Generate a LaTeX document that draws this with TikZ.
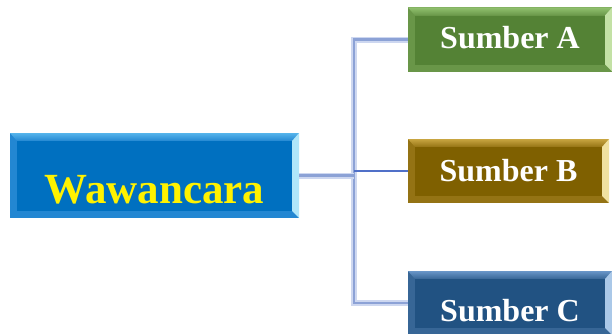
\documentclass[tikz,border=0pt]{standalone}
\usepackage{fontspec}
\setmainfont{Liberation Serif}
\usepackage{tikz}
\usetikzlibrary{calc,positioning}
\definecolor{garis}{RGB}{140,162,214}
\definecolor{garisglow}{RGB}{205,215,240}
\definecolor{garistipis}{RGB}{80,112,200}
\definecolor{biru}{RGB}{0,112,192}
\definecolor{birusisi}{RGB}{35,135,210}
\definecolor{birumuda}{RGB}{85,180,235}
\definecolor{biruterang}{RGB}{175,230,250}
\definecolor{hijau}{RGB}{84,130,53}
\definecolor{hijausisi}{RGB}{105,150,72}
\definecolor{hijaumuda}{RGB}{145,192,110}
\definecolor{hijauterang}{RGB}{195,225,165}
\definecolor{coklat}{RGB}{127,96,0}
\definecolor{coklatsisi}{RGB}{148,115,20}
\definecolor{coklatmuda}{RGB}{200,165,65}
\definecolor{coklatterang}{RGB}{240,225,160}
\definecolor{navy}{RGB}{33,82,130}
\definecolor{navysisi}{RGB}{55,102,150}
\definecolor{navymuda}{RGB}{105,150,200}
\definecolor{navyterang}{RGB}{170,200,232}

\begin{document}
\begin{tikzpicture}[x=1pt, y=1pt,
	bevel/.style n args={4}{draw=none, inner sep=0pt, fill=#1,
		path picture={
			\coordinate (pp-sw) at (path picture bounding box.south west);
			\coordinate (pp-ne) at (path picture bounding box.north east);
			\shade[top color=#2, bottom color=#1] (pp-ne) -- (pp-sw |- pp-ne) -- ($(pp-sw |- pp-ne)+(7,-8)$) -- ($(pp-ne)+(-7,-8)$) -- cycle;
			\fill[#3] (pp-ne) -- (pp-ne |- pp-sw) -- ($(pp-ne |- pp-sw)+(-7,7)$) -- ($(pp-ne)+(-7,-8)$) -- cycle;
			\fill[#4] ($(pp-sw)+(7,7)$) rectangle ($(pp-ne)+(-7,-8)$);
		}},
	sumber/.style={minimum width=204, minimum height=64, text=white,
		font=\fontsize{32pt}{32pt}\selectfont\bfseries, text depth=0pt},
	sambung/.style={garis, line width=2.6pt, preaction={draw=garisglow, line width=6pt}},
	tipis/.style={garistipis, line width=1.2pt}]
	
	\useasboundingbox (0,0) rectangle (612,333);
	
	% ===================== 坐标 =====================
	\path
	(154.5,157.5) coordinate (pWc)
	(510,293.5) coordinate (pA)
	(508.5,162) coordinate (pB)
	(510,30) coordinate (pC)
	(354,0) coordinate (spine);
	
	% ===================== 方框 =====================
	\node[bevel={birusisi}{birumuda}{biruterang}{biru},
		minimum width=289, minimum height=85, text=yellow,
		font=\fontsize{43pt}{43pt}\selectfont\bfseries,
		text height=55pt, text depth=0pt] (wc) at (pWc) {Wawancara};
	\node[sumber, bevel={hijausisi}{hijaumuda}{hijauterang}{hijau}, text height=17pt] (sa) at (pA) {Sumber A};
	\node[sumber, bevel={coklatsisi}{coklatmuda}{coklatterang}{coklat}, minimum width=201, text height=20pt] (sb) at (pB) {Sumber B};
	\node[sumber, bevel={navysisi}{navymuda}{navyterang}{navy}, text height=36pt] (sc) at (pC) {Sumber C};
	
	% 连接线
	\draw[sambung] (sa.west) -- (sa.west -| spine) -- (sc.west -| spine) -- (sc.west);
	\draw[sambung] (wc.east) -- (wc.east -| spine);
	% 细线
	\draw[tipis] (sb.west -| spine) -- (sb.west);
\end{tikzpicture}
\end{document}
